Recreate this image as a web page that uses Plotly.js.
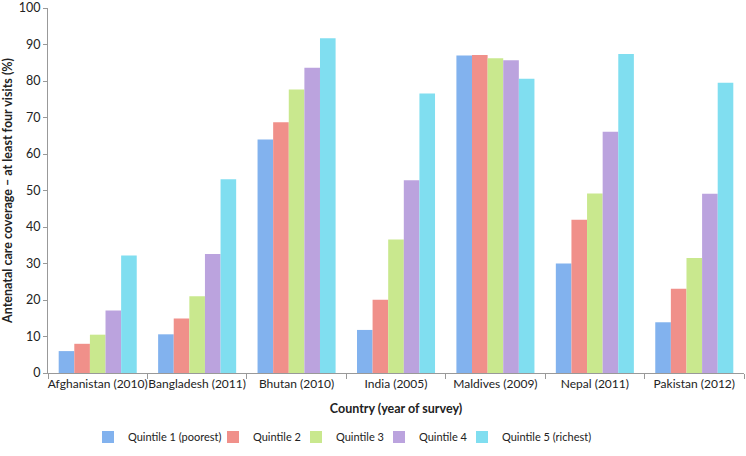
<!DOCTYPE html>
<html><head><meta charset="utf-8">
<script src="https://cdn.plot.ly/plotly-3.0.1.min.js"></script>
<style>html,body{margin:0;padding:0;background:#fff}#c{width:746px;height:456px}</style>
</head><body><div id="c"></div>
<script>
const categories = ["Afghanistan (2010)", "Bangladesh (2011)", "Bhutan (2010)", "India (2005)", "Maldives (2009)", "Nepal (2011)", "Pakistan (2012)"];
const seriesNames = ["Quintile 1 (poorest)", "Quintile 2", "Quintile 3", "Quintile 4", "Quintile 5 (richest)"];
const q1 = [6.0, 10.6, 64.0, 11.8, 87.0, 30.0, 13.9];
const q2 = [8.0, 14.9, 68.7, 20.1, 87.1, 42.0, 23.1];
const q3 = [10.5, 21.0, 77.7, 36.6, 86.2, 49.2, 31.5];
const q4 = [17.1, 32.6, 83.6, 52.8, 85.7, 66.1, 49.1];
const q5 = [32.2, 53.1, 91.7, 76.6, 80.6, 87.4, 79.5];
const colors = ["#82b2ee", "#f0908a", "#c9e88e", "#bba3de", "#80def0"];

const ML = 48, MR = 2, W = 746;
const plotW = W - ML - MR;
const legendItemPx = [88, 213, 296, 379, 462];   // layout: left edge of each legend entry

const all = [q1,q2,q3,q4,q5];
const legendNames = ['legend','legend2','legend3','legend4','legend5'];
const data = all.map((v,i)=>({
  type:'bar', x:categories, y:v, name:seriesNames[i], legend:legendNames[i],
  marker:{color:colors[i], line:{width:0}}
}));
const font = "Lato, 'Open Sans', sans-serif";
const layout = {
  width:W, height:456,
  margin:{l:ML, r:MR, t:8, b:83},
  paper_bgcolor:'#fff', plot_bgcolor:'#fff',
  font:{family:font, size:13, color:'#222'},
  barmode:'group', bargap:0.215, bargroupgap:0,
  showlegend:true,
  xaxis:{
    type:'category', showline:true, linecolor:'#999', linewidth:1,
    ticks:'outside', tickson:'boundaries', ticklen:5, tickcolor:'#999', tickangle:0,
    tickfont:{size:12, color:'#222'},
    title:{text:'<b>Country (year of survey)</b>', font:{size:12.5, color:'#222'}, standoff:13}
  },
  yaxis:{
    range:[0,100], tickmode:'linear', tick0:0, dtick:10, showgrid:false, zeroline:false,
    showline:true, linecolor:'#999', linewidth:1, ticks:'outside', ticklen:4, tickcolor:'#999',
    tickfont:{size:12.5, color:'#222'},
    title:{text:'<b>Antenatal care coverage – at least four visits (%)</b>', font:{size:12.5, color:'#222'}, standoff:6}
  }
};
legendNames.forEach((ln,i)=>{
  layout[ln] = {orientation:'h', x:(legendItemPx[i]-ML)/plotW, xanchor:'left', y:-0.175, yanchor:'middle',
    font:{size:11, color:'#222'}, itemwidth:30, bgcolor:'rgba(0,0,0,0)', borderwidth:0};
});
Plotly.newPlot('c', data, layout, {displayModeBar:false, staticPlot:true});
</script></body></html>
